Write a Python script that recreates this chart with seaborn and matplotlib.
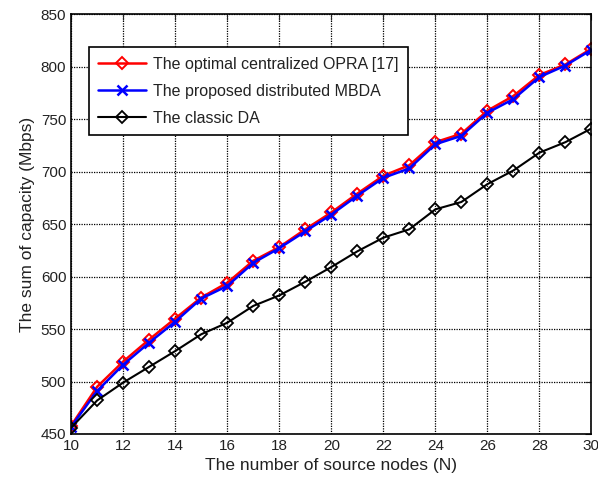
import pandas as pd
import matplotlib
matplotlib.use("Agg")
import matplotlib.pyplot as plt
import seaborn as sns

# ------------------------- DATA ------------------------- #
nodes = list(range(10, 31))
opra = [458, 495, 519, 540, 560, 580, 594, 615, 628, 645, 661,
        679, 696, 706, 728, 736, 758, 772, 792, 802, 817]
mbda = [457, 491, 516, 537, 557, 579, 591, 613, 627, 643, 659,
        677, 694, 703, 726, 734, 756, 769, 790, 801, 816]
classic = [456, 482, 499, 514, 529, 545, 556, 572, 582, 595, 609,
           624, 637, 645, 664, 671, 688, 701, 718, 728, 741]
labels = ["The optimal centralized OPRA [17]",
          "The proposed distributed MBDA",
          "The classic DA"]

# ------------------------- STYLE ------------------------- #
sns.set_style("white")
plt.rcParams["font.family"] = ["Liberation Sans", "DejaVu Sans"]

fig, ax = plt.subplots(figsize=(5.98, 4.86), dpi=100)
fig.subplots_adjust(left=0.119, right=0.989, top=0.971, bottom=0.107)

sns.lineplot(x=nodes, y=opra, ax=ax, color="red", lw=1.8, marker="D",
             markersize=6.5, markerfacecolor="none", markeredgecolor="red",
             markeredgewidth=1.4, label=labels[0])
sns.lineplot(x=nodes, y=mbda, ax=ax, color="blue", lw=1.8, marker="x",
             markersize=7, markeredgecolor="blue", markeredgewidth=1.8,
             label=labels[1])
sns.lineplot(x=nodes, y=classic, ax=ax, color="black", lw=1.5, marker="D",
             markersize=6.5, markerfacecolor="none", markeredgecolor="black",
             markeredgewidth=1.3, label=labels[2])

ax.set_xlim(10, 30)
ax.set_ylim(450, 850)
ax.set_xticks(range(10, 31, 2))
ax.set_yticks(range(450, 851, 50))
ax.grid(True, color="black", linestyle=(0, (1, 1)), linewidth=0.9)
ax.tick_params(direction="in", top=True, right=True, labelsize=11,
               length=4, width=0.8, labelcolor="#222222")
for s in ax.spines.values():
    s.set_color("black")
    s.set_linewidth(1.2)

ax.set_xlabel("The number of source nodes (N)", fontsize=12.5, color="#222222")
ax.set_ylabel("The sum of capacity (Mbps)", fontsize=12.5, color="#222222")

leg = ax.legend(loc="upper left", bbox_to_anchor=(0.034, 0.921),
                fontsize=11.5, frameon=True, fancybox=False,
                edgecolor="black", framealpha=1, handlelength=3.0,
                handletextpad=0.4, borderpad=0.6, labelspacing=0.75,
                borderaxespad=0)
leg.get_frame().set_linewidth(1.2)
for t in leg.get_texts():
    t.set_color("#222222")

fig.savefig("out.png", dpi=100)
